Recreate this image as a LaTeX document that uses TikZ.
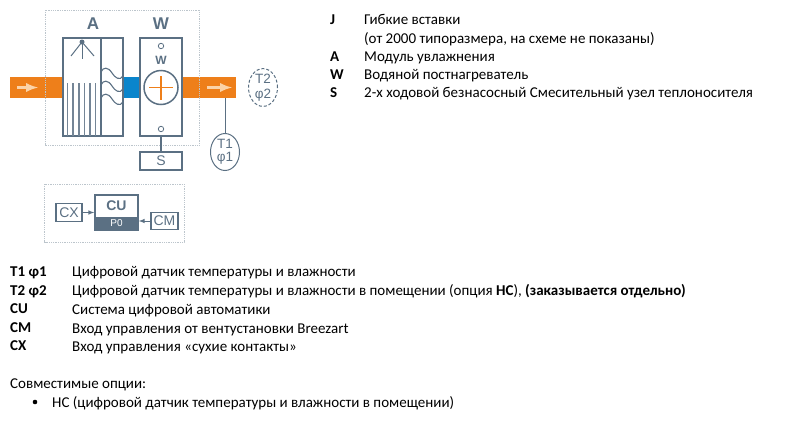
\documentclass[tikz,border=0pt]{standalone}
\usepackage{fontspec}
\setmainfont{Carlito}
\newfontfamily\schemefont{Liberation Sans}
\usetikzlibrary{arrows,shapes}
\definecolor{ductorange}{HTML}{EE7F1A}
\definecolor{ductblue}{HTML}{0A85CC}
\definecolor{slate}{HTML}{5B7083}
\definecolor{framegray}{HTML}{BCC5CC}
\definecolor{flowpeach}{HTML}{FBD3A8}
\tikzset{
    frame/.style={draw=framegray,densely dotted,line width=0.8pt},
    unit/.style={draw=slate,line width=1.5pt},
    thin box/.style={draw=slate,line width=1.2pt,text=slate,font=\schemefont\fontsize{14bp}{14bp}\selectfont,inner sep=0pt},
    sensor/.style={draw=slate,line width=1pt,ellipse,minimum width=29bp,minimum height=37bp,inner sep=0pt,align=center,text=slate,font=\schemefont\fontsize{13.5bp}{14.5bp}\selectfont},
    title/.style={text=slate,font=\schemefont\bfseries\fontsize{17bp}{17bp}\selectfont,inner sep=0pt},
    flow/.style={-latex,draw=flowpeach,line width=3pt},
    link/.style={draw=slate,line width=1.2pt},
    tiny arrow/.style={-latex,draw=slate,line width=1pt},
    legend/.style={anchor=base west,inner sep=0pt,font=\fontsize{15bp}{17bp}\selectfont},
    key/.style={legend,font=\fontsize{15bp}{17bp}\bfseries\selectfont}
}
\begin{document}
\begin{tikzpicture}
    \useasboundingbox (0bp,0bp) rectangle (800bp,-427bp);
    % ducts
    \fill[ductorange] (9.5bp,-77bp) rectangle (63bp,-98bp);
    \fill[ductblue] (123bp,-77bp) rectangle (140bp,-98bp);
    \fill[ductorange] (182bp,-77bp) rectangle (236bp,-98bp);
    \coordinate (in1) at (17bp,-87.5bp);
    \coordinate (in2) at (38bp,-87.5bp);
    \coordinate (out1) at (207bp,-87.5bp);
    \coordinate (out2) at (232bp,-87.5bp);
    \draw[flow] (in1) -- (in2);
    \draw[flow] (out1) -- (out2);
    % frames
    \draw[frame] (45bp,-10bp) rectangle (199.5bp,-145bp);
    \draw[frame] (44.5bp,-184bp) rectangle (184bp,-242bp);
    % module A
    \node[title] (A) at (93bp,-24bp) {A};
    \draw[unit] (63bp,-38bp) rectangle (123bp,-136bp);
    \draw[unit] (101bp,-38bp) -- (101bp,-136bp);
    \fill[slate] (82bp,-42bp) circle (2.5bp);
    \draw[slate,line width=1pt] (82bp,-42bp) -- (82bp,-59bp);
    \draw[slate,line width=1pt] (71bp,-56bp) -- (82bp,-42bp) -- (94bp,-56bp);
    \foreach \x in {67.7,73,79,84.7,90,95.7}
        \draw[slate!85,line width=1.2pt] (\x bp,-83bp) -- (\x bp,-136bp);
    \foreach \y in {-72,-85,-98}
        \draw[slate,line width=1.1pt] (101bp,\y bp) .. controls (103bp,\y bp+5bp) and (108bp,\y bp+5.5bp) .. (112bp,\y bp-1bp) .. controls (115bp,\y bp-6bp) and (120bp,\y bp-9bp) .. (123bp,\y bp-4bp);
    % module W
    \node[title] (W) at (161bp,-24bp) {W};
    \draw[unit,fill=white] (140bp,-38bp) rectangle (182bp,-136bp);
    \draw[slate,line width=0.8pt] (161bp,-46bp) circle (2.7bp);
    \draw[slate,line width=0.8pt] (161bp,-129bp) circle (2.7bp);
    \node[text=slate,inner sep=0pt,font=\schemefont\bfseries\fontsize{12bp}{12bp}\selectfont] (w) at (161bp,-60bp) {W};
    \node[draw=slate,line width=1.5pt,circle,minimum size=34bp,inner sep=0pt] (coil) at (161bp,-87.5bp) {};
    \draw[ductorange,line width=1.5pt] (coil.center) +(-12bp,0) -- +(12bp,0) (coil.center) +(0,-12bp) -- +(0,12bp);
    % valve and sensors
    \node[thin box,minimum width=42bp,minimum height=18bp] (S) at (161bp,-161bp) {S};
    \coordinate (Wbottom) at (161bp,-136bp);
    \draw[link] (Wbottom) -- (S);
    \node[sensor,font=\schemefont\fontsize{13.5bp}{13bp}\selectfont] (T1) at (225bp,-152bp) {T1\\φ1};
    \node[sensor,densely dashed] (T2) at (263bp,-87.5bp) {T2\\φ2};
    \coordinate (ductpoint) at (225bp,-98bp);
    \draw[link,line width=1pt] (ductpoint) -- (T1);
    % control block
    \fill[slate] (95bp,-217bp) rectangle (138bp,-230bp);
    \node[draw=slate,line width=1.5pt,minimum width=43bp,minimum height=35bp,inner sep=0pt] (CUbox) at (116.5bp,-212.5bp) {};
    \node[text=slate,inner sep=0pt,font=\schemefont\bfseries\fontsize{14bp}{14bp}\selectfont] (CU) at (116.5bp,-205.5bp) {CU};
    \node[text=white,inner sep=0pt,font=\schemefont\fontsize{10bp}{10bp}\selectfont] (P0) at (116.5bp,-223.5bp) {P0};
    \node[thin box,minimum width=26bp,minimum height=18bp] (CX) at (69bp,-212.5bp) {CX};
    \node[thin box,minimum width=27bp,minimum height=17bp] (CM) at (164.5bp,-221bp) {CM};
    \draw[tiny arrow] (CX) -- (CX -| CUbox.west);
    \draw[tiny arrow] (CM) -- (CM -| CUbox.east);
    % legend top
    \node[key] (lJ) at (330bp,-24bp) {J};
    \node[legend] (tJ) at (364bp,-24bp) {Гибкие вставки};
    \node[legend] (tJ2) at (364bp,-43bp) {(от 2000 типоразмера, на схеме не показаны)};
    \node[key] (lA) at (330bp,-61bp) {A};
    \node[legend] (tA) at (364bp,-61bp) {Модуль увлажнения};
    \node[key] (lW) at (330bp,-79bp) {W};
    \node[legend] (tW) at (364bp,-79bp) {Водяной постнагреватель};
    \node[key] (lS) at (330bp,-97bp) {S};
    \node[legend] (tS) at (364bp,-97bp) {2-х ходовой безнасосный Смесительный узел теплоносителя};
    % legend bottom
    \node[key] (lT1) at (10bp,-276bp) {T1 φ1};
    \node[legend] (tT1) at (72bp,-276bp) {Цифровой датчик температуры и влажности};
    \node[key] (lT2) at (10bp,-295bp) {T2 φ2};
    \node[legend] (tT2) at (72bp,-295bp) {Цифровой датчик температуры и влажности в помещении (опция \textbf{НС}), \textbf{(заказывается отдельно)}};
    \node[key] (lCU) at (10bp,-313bp) {CU};
    \node[legend] (tCU) at (72bp,-314bp) {Система цифровой автоматики};
    \node[key] (lCM) at (10bp,-332bp) {CM};
    \node[legend] (tCM) at (72bp,-333bp) {Вход управления от вентустановки Breezart};
    \node[key] (lCX) at (10bp,-350bp) {CX};
    \node[legend] (tCX) at (72bp,-351bp) {Вход управления «сухие контакты»};
    \node[legend] (opts) at (10bp,-388bp) {Совместимые опции:};
    \fill (35bp,-402bp) circle (2.3bp);
    \node[legend] (opt1) at (52bp,-407bp) {НС (цифровой датчик температуры и влажности в помещении)};
\end{tikzpicture}
\end{document}
